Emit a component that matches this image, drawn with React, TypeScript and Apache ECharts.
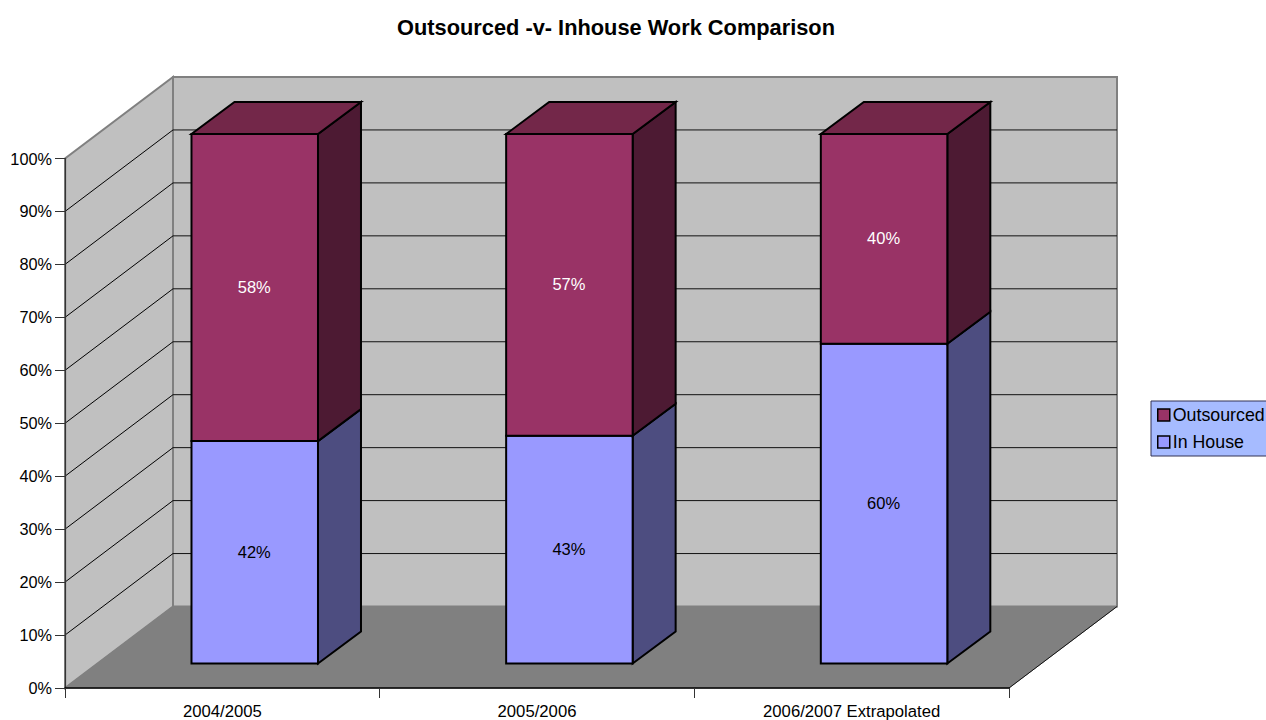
import React, { useEffect, useRef } from "react";
import * as echarts from "echarts";

const categories = ["2004/2005", "2005/2006", "2006/2007 Extrapolated"];
const inHouse = [42, 43, 60.4];
const outsourced = [58, 57, 39.6];
const yTicks = [10, 20, 30, 40, 50, 60, 70, 80, 90, 100];

const FONT = '"Liberation Sans", Arial, sans-serif';
const WALL_DEPTH = [108, -81.5];
const BAR_OFFSET = [32.4, -24.5];
const BAR_DEPTH = [43, -32];

const poly = (points: number[][], fill: string, stroke: string, lineWidth = 2) => ({
  type: "polygon",
  shape: { points },
  style: { fill, stroke, lineWidth, lineJoin: "miter" },
});
const seg = (a: number[], b: number[], stroke: string, lineWidth = 1) => ({
  type: "line",
  shape: { x1: a[0], y1: a[1], x2: b[0], y2: b[1] },
  style: { stroke, lineWidth },
});

const wallsRender = (_p: any, api: any) => {
  const band = api.size([1, 0])[0];
  const l = (y: number) => {
    const c = api.coord([0, y]);
    return [c[0] - band / 2, c[1]];
  };
  const r = (y: number) => {
    const c = api.coord([categories.length - 1, y]);
    return [c[0] + band / 2, c[1]];
  };
  const back = (p: number[]) => [p[0] + WALL_DEPTH[0], p[1] + WALL_DEPTH[1]];
  const children: any[] = [
    poly([l(0), back(l(0)), back(l(100)), l(100)], "#C0C0C0", "#808080", 2),
    poly([back(l(0)), back(r(0)), back(r(100)), back(l(100))], "#C0C0C0", "#808080", 2),
    poly([l(0), back(l(0)), back(r(0)), r(0)], "#808080", "#808080", 1),
    seg(r(0), back(r(0)), "#111111", 1),
  ];
  yTicks
    .filter((t) => t < 100)
    .forEach((t) => {
      children.push(seg(l(t), back(l(t)), "#000000", 1));
      children.push(seg(back(l(t)), back(r(t)), "#111111", 1));
    });
  return { type: "group", children };
};

const barRender = (front: string, side: string, top: string | null, labelColor: string) => (_p: any, api: any) => {
  const idx = api.value(0);
  const lo = api.value(1);
  const hi = api.value(2);
  const w = api.size([1, 0])[0] * 0.402;
  const a = api.coord([idx, lo]);
  const b = api.coord([idx, hi]);
  const x0 = a[0] + BAR_OFFSET[0] - w / 2;
  const x1 = x0 + w;
  const yb = a[1] + BAR_OFFSET[1];
  const yt = b[1] + BAR_OFFSET[1];
  const [dx, dy] = BAR_DEPTH;
  const children: any[] = [
    poly([[x1, yb], [x1 + dx, yb + dy], [x1 + dx, yt + dy], [x1, yt]], side, "#000000"),
    poly([[x0, yb], [x1, yb], [x1, yt], [x0, yt]], front, "#000000"),
  ];
  if (top) {
    children.push(poly([[x0, yt], [x1, yt], [x1 + dx, yt + dy], [x0 + dx, yt + dy]], top, "#000000"));
  }
  children.push({
    type: "text",
    x: (x0 + x1) / 2 - 0.5,
    y: (yb + yt) / 2 - 0.5,
    style: {
      text: `${Math.round(hi - lo)}%`,
      fill: labelColor,
      font: `16.5px ${FONT}`,
      align: "center",
      verticalAlign: "middle",
    },
  });
  return { type: "group", children };
};

export default function App() {
  const ref = useRef<HTMLDivElement>(null);
  useEffect(() => {
    const chart = echarts.init(ref.current!, undefined, { renderer: "svg" });
    chart.setOption({
      animation: false,
      backgroundColor: "#ffffff",
      title: {
        text: "Outsourced -v- Inhouse Work Comparison",
        left: 611,
        top: 11,
        textAlign: "center",
        textStyle: { fontFamily: FONT, fontSize: 21.8, fontWeight: "bold", color: "#000000" },
      },
      legend: {
        orient: "vertical",
        left: 1151,
        top: 401,
        padding: [5, 30, 5, 6],
        itemWidth: 12,
        itemHeight: 12,
        itemGap: 9,
        icon: "rect",
        backgroundColor: "#A6BBFF",
        borderColor: "#333355",
        borderWidth: 1,
        data: ["Outsourced", "In House"],
        textStyle: { fontFamily: FONT, fontSize: 17.8, color: "#000000", padding: [0, 0, 0, -2] },
        itemStyle: { borderColor: "#000000", borderWidth: 1.5 },
      },
      grid: { left: 65, top: 158.5, width: 944, height: 529.5 },
      xAxis: {
        type: "category",
        data: categories,
        z: 5,
        axisLine: { lineStyle: { color: "#000000", width: 1.5 } },
        axisTick: { show: true, alignWithLabel: false, length: 10, lineStyle: { color: "#333333", width: 1 } },
        axisLabel: { fontFamily: FONT, fontSize: 16.7, color: "#000000", margin: 15, interval: 0 },
        splitLine: { show: false },
      },
      yAxis: {
        type: "value",
        min: 0,
        max: 100,
        interval: 10,
        z: 5,
        axisLine: { show: true, lineStyle: { color: "#333333", width: 1.2 } },
        axisTick: { show: true, length: 10, lineStyle: { color: "#333333", width: 1 } },
        axisLabel: { fontFamily: FONT, fontSize: 16.3, color: "#000000", margin: 13, formatter: "{value}%" },
        splitLine: { show: false },
      },
      series: [
        {
          type: "custom",
          name: "walls",
          z: 1,
          silent: true,
          renderItem: wallsRender,
          encode: { x: 0, y: 1 },
          data: [[0, 0]],
        },
        {
          type: "custom",
          name: "In House",
          z: 2,
          itemStyle: { color: "#9999FF" },
          renderItem: barRender("#9999FF", "#4D4D80", null, "#000000"),
          encode: { x: 0, y: 2 },
          data: inHouse.map((v, i) => [i, 0, v]),
        },
        {
          type: "custom",
          name: "Outsourced",
          z: 3,
          itemStyle: { color: "#993366" },
          renderItem: barRender("#993366", "#4D1A33", "#732749", "#ffffff"),
          encode: { x: 0, y: 2 },
          data: outsourced.map((v, i) => [i, inHouse[i], inHouse[i] + v]),
        },
      ],
    });
    return () => chart.dispose();
  }, []);
  return (
    <div
      ref={ref}
      style={{ position: "fixed", left: 0, top: 0, width: 1266, height: 720 }}
    />
  );
}
